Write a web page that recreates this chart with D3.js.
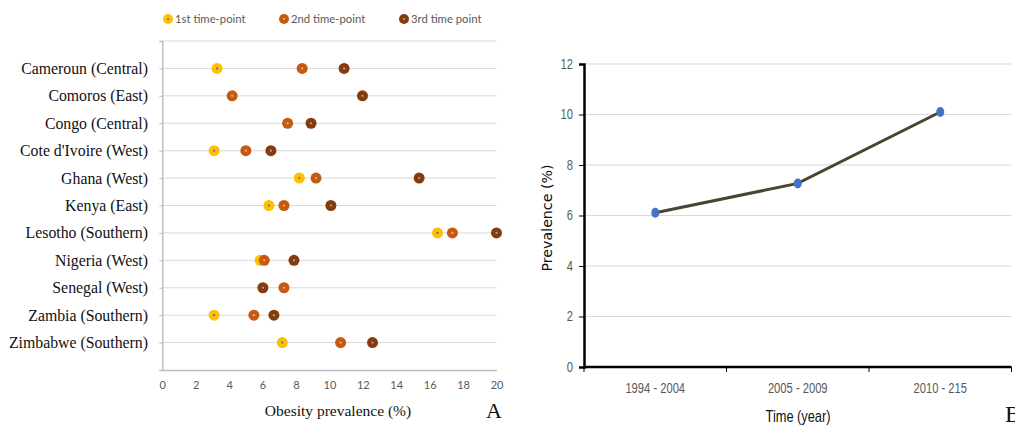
<!DOCTYPE html>
<html>
<head>
<meta charset="utf-8">
<script src="https://cdn.jsdelivr.net/npm/d3@7/dist/d3.min.js"></script>
<style>
  html, body { margin: 0; padding: 0; background: #fff; }
  svg { display: block; }
</style>
</head>
<body>
<svg id="chart" width="1015" height="425"></svg>
<script>
// ---- Panel A data ----
const countries = ["Cameroun (Central)", "Comoros (East)", "Congo (Central)", "Cote d'Ivoire (West)",
  "Ghana (West)", "Kenya (East)", "Lesotho (Southern)", "Nigeria (West)", "Senegal (West)",
  "Zambia (Southern)", "Zimbabwe (Southern)"];
const seriesNames = ["1st time-point", "2nd time-point", "3rd time point"];
const firstPoint  = [3.28, null, null, 3.1, 8.2, 6.38, 16.47, 5.85, null, 3.1, 7.18];
const secondPoint = [8.37, 4.18, 7.5, 5.0, 9.2, 7.28, 17.36, 6.1, 7.28, 5.48, 10.67];
const thirdPoint  = [10.88, 11.98, 8.9, 6.5, 15.37, 10.09, 20.0, 7.88, 6.02, 6.68, 12.58];
const xTicksA = [0, 2, 4, 6, 8, 10, 12, 14, 16, 18, 20];

// ---- Panel B data ----
const periods = ["1994 - 2004", "2005 - 2009", "2010 - 215"];
const prevalence = [6.11, 7.27, 10.1];
const yTicksB = [0, 2, 4, 6, 8, 10, 12];

const svg = d3.select("#chart");
const serif = "'Liberation Serif', 'DejaVu Serif', serif";
const sans = "Lato, 'Open Sans', sans-serif";
const narrow = "'Liberation Sans', Arial, sans-serif";
const NARROW = 0.8;

// ================= Panel A =================
const colors = ["#FFC000", "#C55A11", "#843C0C"];
const centers = ["#4472C4", "#F4B183", "#A5A5A5"];
const xA = d3.scaleLinear().domain([0, 20]).range([162.3, 496.5]);
const yA = d3.scaleLinear().domain([0, 12]).range([370, 41]);
const gA = svg.append("g");

const gridVals = d3.range(1, 13);
gA.selectAll("line.grid").data(gridVals).join("line")
  .attr("x1", xA(0)).attr("x2", xA(20))
  .attr("y1", d => yA(d)).attr("y2", d => yA(d))
  .attr("stroke", "#d9d9d9").attr("stroke-width", 1);

const catPos = countries.map((c, i) => 11 - i);
const yAxisA = d3.axisLeft(yA).tickValues(d3.range(0, 12)).tickSize(3).tickFormat(() => "");
const yAx = gA.append("g").attr("transform", `translate(${xA(0)},0)`).call(yAxisA);
yAx.select(".domain").attr("stroke", "#bfbfbf").attr("stroke-width", 1.5);
yAx.selectAll(".tick line").attr("stroke", "#bfbfbf");

gA.selectAll("text.cat").data(countries).join("text")
  .attr("x", 148).attr("y", (d, i) => yA(catPos[i]))
  .attr("dy", "0.35em").attr("text-anchor", "end")
  .attr("font-family", serif).attr("font-size", 15.8).attr("fill", "#111")
  .text(d => d);

const xAxisA = d3.axisBottom(xA).tickValues(xTicksA).tickSize(0).tickPadding(11);
const xAx = gA.append("g").attr("transform", `translate(0,${yA(0)})`).call(xAxisA);
xAx.select(".domain").attr("stroke", "#bfbfbf").attr("stroke-width", 1.5);
xAx.selectAll("text").attr("font-family", sans).attr("font-size", 11).attr("fill", "#595959");

gA.append("text").attr("x", 338).attr("y", 416).attr("text-anchor", "middle")
  .attr("font-family", serif).attr("font-size", 15.5).attr("fill", "#111")
  .text("Obesity prevalence (%)");
gA.append("text").attr("x", 494).attr("y", 418).attr("text-anchor", "middle")
  .attr("font-family", serif).attr("font-size", 22).attr("fill", "#111").text("A");

const allSeries = [firstPoint, secondPoint, thirdPoint];
allSeries.forEach((vals, s) => {
  const pts = vals.map((v, i) => ({ v, i })).filter(d => d.v !== null);
  const g = gA.append("g");
  g.selectAll("circle.m").data(pts).join("circle")
    .attr("cx", d => xA(d.v)).attr("cy", d => yA(catPos[d.i]))
    .attr("r", 5.5).attr("fill", colors[s]);
  g.selectAll("circle.c").data(pts).join("circle")
    .attr("cx", d => xA(d.v)).attr("cy", d => yA(catPos[d.i]))
    .attr("r", 1.1).attr("fill", centers[s]);
});

const legX = [168, 284, 404];
seriesNames.forEach((n, s) => {
  const g = gA.append("g").attr("transform", `translate(${legX[s]},19)`);
  g.append("circle").attr("r", 5).attr("fill", colors[s]);
  g.append("circle").attr("r", 1).attr("fill", centers[s]);
  g.append("text").attr("x", 7).attr("dy", "0.35em")
    .attr("font-family", sans).attr("font-size", 11.3).attr("fill", "#595959").text(n);
});

// ================= Panel B =================
const xB = d3.scaleBand().domain(periods).range([584, 1011.5]);
const yB = d3.scaleLinear().domain([0, 12]).range([367, 64]);
const gB = svg.append("g");

gB.selectAll("line.grid").data(yTicksB.filter(d => d > 0)).join("line")
  .attr("x1", 584).attr("x2", 1011.5)
  .attr("y1", d => yB(d)).attr("y2", d => yB(d))
  .attr("stroke", "#d9d9d9").attr("stroke-width", 1);

const yAxisB = d3.axisLeft(yB).tickValues(yTicksB).tickSize(5).tickFormat("");
const yAxB = gB.append("g").attr("transform", "translate(584,0)").call(yAxisB);
yAxB.select(".domain").attr("stroke", "#000").attr("stroke-width", 2.5);
yAxB.selectAll(".tick line").attr("stroke", "#000");
gB.selectAll("text.ytl").data(yTicksB).join("text")
  .attr("transform", d => `translate(573,${yB(d)}) scale(${NARROW},1)`)
  .attr("dy", "0.35em").attr("text-anchor", "end")
  .attr("font-family", narrow).attr("font-size", 14).attr("fill", "#595959").text(d => d);

const xAxB = gB.append("g").attr("transform", `translate(0,${yB(0)})`);
xAxB.append("line").attr("x1", 584).attr("x2", 1011.5).attr("stroke", "#000").attr("stroke-width", 2.5);
const bounds = periods.map(p => xB(p)).concat([xB.range()[1]]);
xAxB.selectAll("line.tk").data(bounds).join("line")
  .attr("x1", d => d).attr("x2", d => d).attr("y1", 0).attr("y2", 5)
  .attr("stroke", "#000").attr("stroke-width", 1);
xAxB.selectAll("text").data(periods).join("text")
  .attr("transform", d => `translate(${xB(d) + xB.bandwidth() / 2},26) scale(${NARROW},1)`)
  .attr("text-anchor", "middle")
  .attr("font-family", narrow).attr("font-size", 14).attr("fill", "#595959").text(d => d);

gB.append("text").attr("transform", `translate(798,422) scale(${NARROW},1)`).attr("text-anchor", "middle")
  .attr("font-family", narrow).attr("font-size", 16).attr("fill", "#111").text("Time (year)");
gB.append("text").attr("transform", "translate(552,218) rotate(-90)").attr("text-anchor", "middle")
  .attr("font-family", "'DejaVu Sans', sans-serif").attr("font-size", 14.2).attr("fill", "#111")
  .text("Prevalence (%)");
gB.append("text").attr("x", 1005).attr("y", 422)
  .attr("font-family", serif).attr("font-size", 24).attr("fill", "#111").text("B");

const line = d3.line().x((d, i) => xB(periods[i]) + xB.bandwidth() / 2).y(d => yB(d));
gB.append("path").datum(prevalence).attr("d", line)
  .attr("fill", "none").attr("stroke", "#4a4530").attr("stroke-width", 3);
gB.selectAll("ellipse").data(prevalence).join("ellipse")
  .attr("cx", (d, i) => xB(periods[i]) + xB.bandwidth() / 2).attr("cy", d => yB(d))
  .attr("rx", 4).attr("ry", 5).attr("fill", "#4472C4");
</script>
</body>
</html>
